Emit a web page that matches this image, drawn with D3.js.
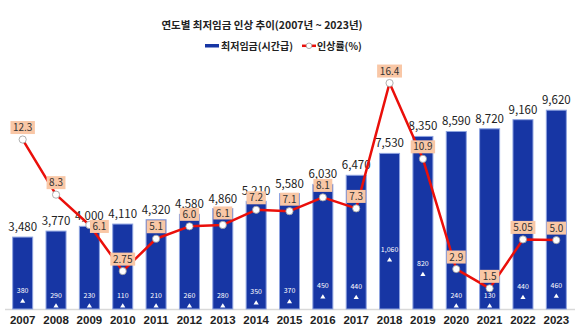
<!DOCTYPE html>
<html>
<head>
<meta charset="utf-8">
<script src="https://cdn.jsdelivr.net/npm/d3@7"></script>
<style>
  html, body { margin: 0; padding: 0; background: #fff; }
  #chart { font-family: "Noto Sans CJK KR", "Noto Sans", sans-serif; }
  .title { font-size: 10.5px; font-weight: bold; fill: #222; text-anchor: middle; }
  .legend text { font-size: 10px; font-weight: bold; fill: #222; }
  .axis text { font-size: 11.5px; font-weight: bold; fill: #222; }
  .axis .domain { stroke: #d9d9d9; stroke-width: 1.5px; }
  .bar { fill: #1736a4; stroke: #8ea3e0; stroke-width: 1px; }
  .wage-label { font-size: 11.5px; fill: #222; text-anchor: middle; }
  .inc-label { font-size: 7px; fill: #fff; text-anchor: middle; }
  .line { fill: none; stroke: #ea0f0a; stroke-width: 2.5px; stroke-linejoin: round; }
  .dot { fill: #fff; stroke: #9a9a9a; stroke-width: 0.8px; }
  .rate-box { fill: #f9c7a6; }
  .rate-label { font-size: 10px; fill: #333; text-anchor: middle; }
</style>
</head>
<body>
<svg id="chart" width="586" height="334"></svg>
<script>
const years = ["2007", "2008", "2009", "2010", "2011", "2012", "2013", "2014", "2015",
               "2016", "2017", "2018", "2019", "2020", "2021", "2022", "2023"];
const wages = [3480, 3770, 4000, 4110, 4320, 4580, 4860, 5210, 5580,
               6030, 6470, 7530, 8350, 8590, 8720, 9160, 9620];
const increases = [380, 290, 230, 110, 210, 260, 280, 350, 370,
                   450, 440, 1060, 820, 240, 130, 440, 460];
const rates = [12.3, 8.3, 6.1, 2.75, 5.1, 6.0, 6.1, 7.2, 7.1,
               8.1, 7.3, 16.4, 10.9, 2.9, 1.5, 5.05, 5.0];
const rateLabels = ["12.3", "8.3", "6.1", "2.75", "5.1", "6.0", "6.1", "7.2", "7.1",
                    "8.1", "7.3", "16.4", "10.9", "2.9", "1.5", "5.05", "5.0"];

const svg = d3.select("#chart");
const baseY = 309, topY = 61;

const x = d3.scaleBand().domain(years).range([6, 573]).paddingInner(0.37).paddingOuter(0.185);
const y = d3.scaleLinear().domain([0, 12000]).range([baseY, topY]);
const y2 = d3.scaleLinear().domain([0, 18]).range([baseY, topY]);
// height of the small "increase" label above the baseline
const incPos = d3.scaleLinear().domain([300, 1060]).range([14, 60]).clamp(true);

const rows = years.map((yr, i) => ({
  year: yr, wage: wages[i], inc: increases[i], rate: rates[i], rateLabel: rateLabels[i]
}));

// title
svg.append("text").attr("class", "title").attr("x", 262).attr("y", 29)
  .text("연도별 최저임금 인상 추이(2007년 ~ 2023년)");

// legend
const legend = svg.append("g").attr("class", "legend");
legend.append("rect").attr("x", 205).attr("y", 44).attr("width", 14).attr("height", 3.5).attr("fill", "#1736a4");
legend.append("text").attr("x", 221).attr("y", 49.5).text("최저임금(시간급)");
legend.append("line").attr("x1", 302).attr("x2", 316).attr("y1", 45.8).attr("y2", 45.8)
  .attr("stroke", "#ea0f0a").attr("stroke-width", 2.5);
legend.append("circle").attr("class", "dot").attr("cx", 309).attr("cy", 45.8).attr("r", 2.8);
legend.append("text").attr("x", 317).attr("y", 49.5).text("인상률(%)");

// x axis
const axis = svg.append("g").attr("class", "axis").attr("transform", "translate(0," + baseY + ")")
  .call(d3.axisBottom(x).tickSize(0).tickPadding(7));
axis.select(".domain").attr("d", "M5,0.5H575");

// bars
svg.append("g").selectAll("rect").data(rows).join("rect")
  .attr("class", "bar")
  .attr("x", d => x(d.year) + 0.5)
  .attr("y", d => y(d.wage))
  .attr("width", x.bandwidth() - 1)
  .attr("height", d => baseY - y(d.wage));

svg.append("g").selectAll("text").data(rows).join("text")
  .attr("class", "wage-label")
  .attr("x", d => x(d.year) + x.bandwidth() / 2)
  .attr("y", d => y(d.wage) - 6)
  .text(d => d3.format(",")(d.wage));

// increase labels inside bars
const inc = svg.append("g").selectAll("g").data(rows).join("g")
  .attr("transform", d => "translate(" + (x(d.year) + x.bandwidth() / 2) + "," + (baseY - incPos(d.inc)) + ")");
inc.append("text").attr("class", "inc-label").attr("y", 2.5).text(d => d3.format(",")(d.inc));
inc.append("path").attr("d", "M-2.6,12.5L2.6,12.5L0,8.3Z").attr("fill", "#fff");

// rate line
const cx = d => x(d.year) + x.bandwidth() / 2;
svg.append("path").datum(rows).attr("class", "line")
  .attr("d", d3.line().x(cx).y(d => y2(d.rate)));

svg.append("g").selectAll("circle").data(rows).join("circle")
  .attr("class", "dot").attr("r", 3.6)
  .attr("cx", cx).attr("cy", d => y2(d.rate));

// rate labels in peach boxes
const labels = svg.append("g").selectAll("g").data(rows).join("g")
  .attr("transform", d => {
    if (d.year === "2009") return "translate(" + (cx(d) + 10) + "," + (y2(d.rate) + 1.5) + ")";
    return "translate(" + cx(d) + "," + (y2(d.rate) - 12) + ")";
  });
labels.append("rect").attr("class", "rate-box");
labels.append("text").attr("class", "rate-label").attr("y", 3.6).text(d => d.rateLabel);
labels.each(function() {
  const g = d3.select(this);
  const bb = g.select("text").node().getBBox();
  g.select("rect").attr("x", -bb.width / 2 - 2.5).attr("y", -6.5)
    .attr("width", bb.width + 5).attr("height", 13);
});
</script>
</body>
</html>
